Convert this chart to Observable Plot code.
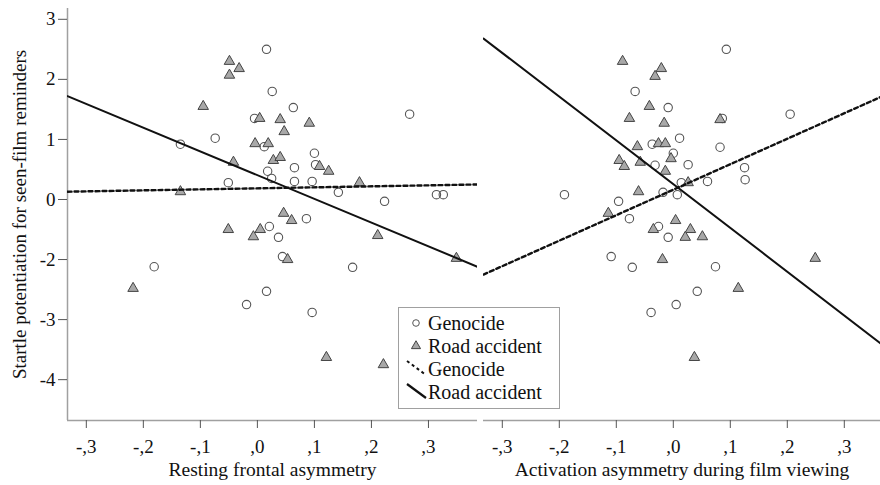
<!DOCTYPE html>
<html>
<head>
<meta charset="utf-8">
<script src="https://cdn.jsdelivr.net/npm/d3@7"></script>
<script src="https://cdn.jsdelivr.net/npm/@observablehq/plot@0.6"></script>
<style>
  html, body { margin: 0; padding: 0; background: #fff; overflow: hidden; }
  #wrap { position: relative; width: 880px; height: 485px; display: flex; font-family: "Liberation Serif", "Times New Roman", "DejaVu Serif", serif; }
  #wrap svg, #wrap text { font-family: "Liberation Serif", "Times New Roman", "DejaVu Serif", serif !important; }
  #legend { position: absolute; left: 398px; top: 307px; }
</style>
</head>
<body>
<div id="wrap"></div>
<script>
// ---- Data ----
const seriesNames = ["Genocide", "Road accident"];
const yTitle = "Startle potentiation for seen-film reminders";
const xTitleLeft = "Resting frontal asymmetry";
const xTitleRight = "Activation asymmetry during film viewing";
const xTickValues = [-0.3, -0.2, -0.1, 0, 0.1, 0.2, 0.3];
const xTickLabels = ["-,3", "-,2", "-,1", ",0", ",1", ",2", ",3"];
const yTickValues = [3, 2, 1, 0, -1, -2, -3];
const yTickLabels = ["3", "2", "1", "0", "-2", "-3", "-4"];

// Left panel: resting frontal asymmetry
const restGenX = [0.016, 0.026, 0.063, -0.005, -0.074, -0.135, 0.012, 0.100, 0.102, 0.065, 0.018, 0.025, -0.051, 0.065, 0.096, 0.142, 0.223, 0.267, 0.314, 0.326, 0.086, 0.021, 0.037, -0.181, 0.044, 0.167, 0.016, -0.019, 0.096];
const restGenY = [2.50, 1.80, 1.53, 1.35, 1.02, 0.92, 0.88, 0.77, 0.58, 0.53, 0.47, 0.35, 0.28, 0.30, 0.30, 0.12, -0.03, 1.42, 0.08, 0.08, -0.32, -0.45, -0.63, -1.12, -0.95, -1.13, -1.53, -1.75, -1.88];
const restRoadX = [-0.049, -0.049, -0.032, -0.095, 0.004, 0.040, 0.047, 0.091, -0.004, 0.019, -0.042, 0.028, 0.040, 0.109, 0.125, 0.179, -0.135, 0.046, 0.060, -0.051, 0.005, -0.007, 0.211, -0.218, 0.053, 0.349, 0.121, 0.221];
const restRoadY = [2.30, 2.07, 2.18, 1.55, 1.35, 1.33, 1.13, 1.27, 0.93, 0.93, 0.62, 0.65, 0.70, 0.55, 0.47, 0.28, 0.13, -0.23, -0.35, -0.50, -0.50, -0.62, -0.60, -1.48, -1.00, -0.98, -2.63, -2.75];
const restGenFitX = [-0.333, 0.386];
const restGenFitY = [0.13, 0.25];
const restRoadFitX = [-0.333, 0.386];
const restRoadFitY = [1.72, -1.12];

// Right panel: activation asymmetry during film viewing
const viewGenX = [-0.067, -0.009, 0.011, -0.037, 0.000, -0.032, 0.014, -0.018, 0.007, -0.191, -0.096, -0.077, -0.026, -0.009, 0.093, 0.086, 0.205, 0.082, 0.026, 0.125, 0.126, 0.060, -0.109, -0.072, -0.039, 0.005, 0.074, 0.042];
const viewGenY = [1.80, 1.53, 1.02, 0.92, 0.77, 0.57, 0.28, 0.12, 0.08, 0.08, -0.03, -0.32, -0.45, -0.63, 2.50, 1.35, 1.42, 0.87, 0.58, 0.53, 0.33, 0.30, -0.95, -1.13, -1.88, -1.75, -1.12, -1.53];
const viewRoadX = [-0.089, -0.021, -0.032, -0.042, -0.077, -0.016, -0.063, -0.026, -0.014, -0.095, -0.086, -0.058, -0.004, -0.014, -0.061, -0.114, 0.004, -0.035, 0.082, 0.026, 0.030, 0.021, 0.051, -0.019, 0.114, 0.249, 0.037];
const viewRoadY = [2.30, 2.18, 2.05, 1.55, 1.35, 1.27, 0.88, 0.93, 0.93, 0.65, 0.55, 0.62, 0.68, 0.47, 0.13, -0.23, -0.35, -0.50, 1.33, 0.28, -0.50, -0.63, -0.62, -1.00, -1.48, -0.98, -2.63];
const viewGenFitX = [-0.333, 0.367];
const viewGenFitY = [-1.25, 1.72];
const viewRoadFitX = [-0.333, 0.367];
const viewRoadFitY = [2.68, -2.42];

// ---- Build ----
const pts = (xs, ys) => xs.map((x, i) => ({x, y: ys[i]}));
const xLabelMap = new Map(xTickValues.map((v, i) => [v, xTickLabels[i]]));
const yLabelMap = new Map(yTickValues.map((v, i) => [v, yTickLabels[i]]));
const FONT = '"Liberation Serif", "Times New Roman", "DejaVu Serif", serif';
const AXIS = "#a0a0a0";
const TICK = "#555";
const yDomain = [-3.68, 3.18];

function panel({width, marginLeft, xDomain, showY, xTitle, gen, road, genFit, roadFit}) {
  const marks = [
    Plot.ruleY([yDomain[0]], {stroke: AXIS, strokeWidth: 1.5}),
    Plot.axisX({ticks: xTickValues, tickFormat: d => xLabelMap.get(d), tickSize: 8, tickPadding: 11,
      fontSize: 19, stroke: TICK, fill: "#111", label: null}),
    Plot.text([xTitle], {frameAnchor: "bottom", dy: 49, fontSize: 19.5, fill: "#111", lineAnchor: "middle", textAnchor: "middle"}),
    Plot.dot(gen, {x: "x", y: "y", r: 4.2, stroke: "#555", fill: "none", strokeWidth: 1.1}),
    Plot.dot(road, {x: "x", y: "y", symbol: "triangle", r: 3.9, fill: "#a8a8a8", stroke: "#444", strokeWidth: 1}),
    Plot.line(genFit, {x: "x", y: "y", stroke: "#111", strokeWidth: 2.4, strokeDasharray: "4,3", clip: true}),
    Plot.line(roadFit, {x: "x", y: "y", stroke: "#111", strokeWidth: 2, clip: true})
  ];
  if (showY) {
    marks.unshift(
      Plot.ruleX([xDomain[0]], {stroke: AXIS, strokeWidth: 1.5}),
      Plot.axisY({ticks: yTickValues, tickFormat: d => yLabelMap.get(d), tickSize: 9, tickPadding: 3,
        fontSize: 19, stroke: TICK, fill: "#111", label: null}),
      Plot.text([yTitle], {frameAnchor: "left", rotate: -90, dx: -48, fontSize: 19, fill: "#111", lineAnchor: "middle", textAnchor: "middle"})
    );
  }
  return Plot.plot({
    width, height: 485,
    marginLeft, marginRight: 0, marginTop: 8, marginBottom: 65,
    style: {fontFamily: FONT, background: "#fff", overflow: "visible"},
    x: {domain: xDomain, axis: null},
    y: {domain: yDomain, axis: null},
    marks
  });
}

const wrap = document.getElementById("wrap");
wrap.appendChild(panel({
  width: 477, marginLeft: 67, xDomain: [-0.333, 0.386], showY: true, xTitle: xTitleLeft,
  gen: pts(restGenX, restGenY), road: pts(restRoadX, restRoadY),
  genFit: pts(restGenFitX, restGenFitY), roadFit: pts(restRoadFitX, restRoadFitY)
}));
wrap.appendChild(panel({
  width: 403, marginLeft: 6, xDomain: [-0.333, 0.3635], showY: false, xTitle: xTitleRight,
  gen: pts(viewGenX, viewGenY), road: pts(viewRoadX, viewRoadY),
  genFit: pts(viewGenFitX, viewGenFitY), roadFit: pts(viewRoadFitX, viewRoadFitY)
}));

// ---- Legend ----
const lg = d3.select(wrap).append("svg").attr("id", "legend")
  .attr("width", 162).attr("height", 102).style("font-family", FONT);
lg.append("rect").attr("x", 0.5).attr("y", 0.5).attr("width", 161).attr("height", 101)
  .attr("fill", "#fff").attr("stroke", "#a0a0a0");
const rows = [
  {name: seriesNames[0], kind: "circle"},
  {name: seriesNames[1], kind: "triangle"},
  {name: seriesNames[0], kind: "dotted"},
  {name: seriesNames[1], kind: "solid"}
];
rows.forEach((r, i) => {
  const cy = 16 + i * 23;
  const g = lg.append("g");
  if (r.kind === "circle") {
    g.append("circle").attr("cx", 18).attr("cy", cy).attr("r", 3.3).attr("fill", "none").attr("stroke", "#555");
  } else if (r.kind === "triangle") {
    g.append("path").attr("transform", `translate(18,${cy})`)
      .attr("d", d3.symbol(d3.symbolTriangle, 36)()).attr("fill", "#a8a8a8").attr("stroke", "#444");
  } else {
    g.append("line").attr("x1", 9).attr("y1", cy - 8).attr("x2", 28).attr("y2", cy + 6)
      .attr("stroke", "#111").attr("stroke-width", r.kind === "dotted" ? 2 : 2.2)
      .attr("stroke-dasharray", r.kind === "dotted" ? "3,3" : null);
  }
  g.append("text").attr("x", 30).attr("y", cy).attr("dy", "0.35em")
    .attr("font-size", 20).attr("fill", "#111").text(r.name);
});
</script>
</body>
</html>
